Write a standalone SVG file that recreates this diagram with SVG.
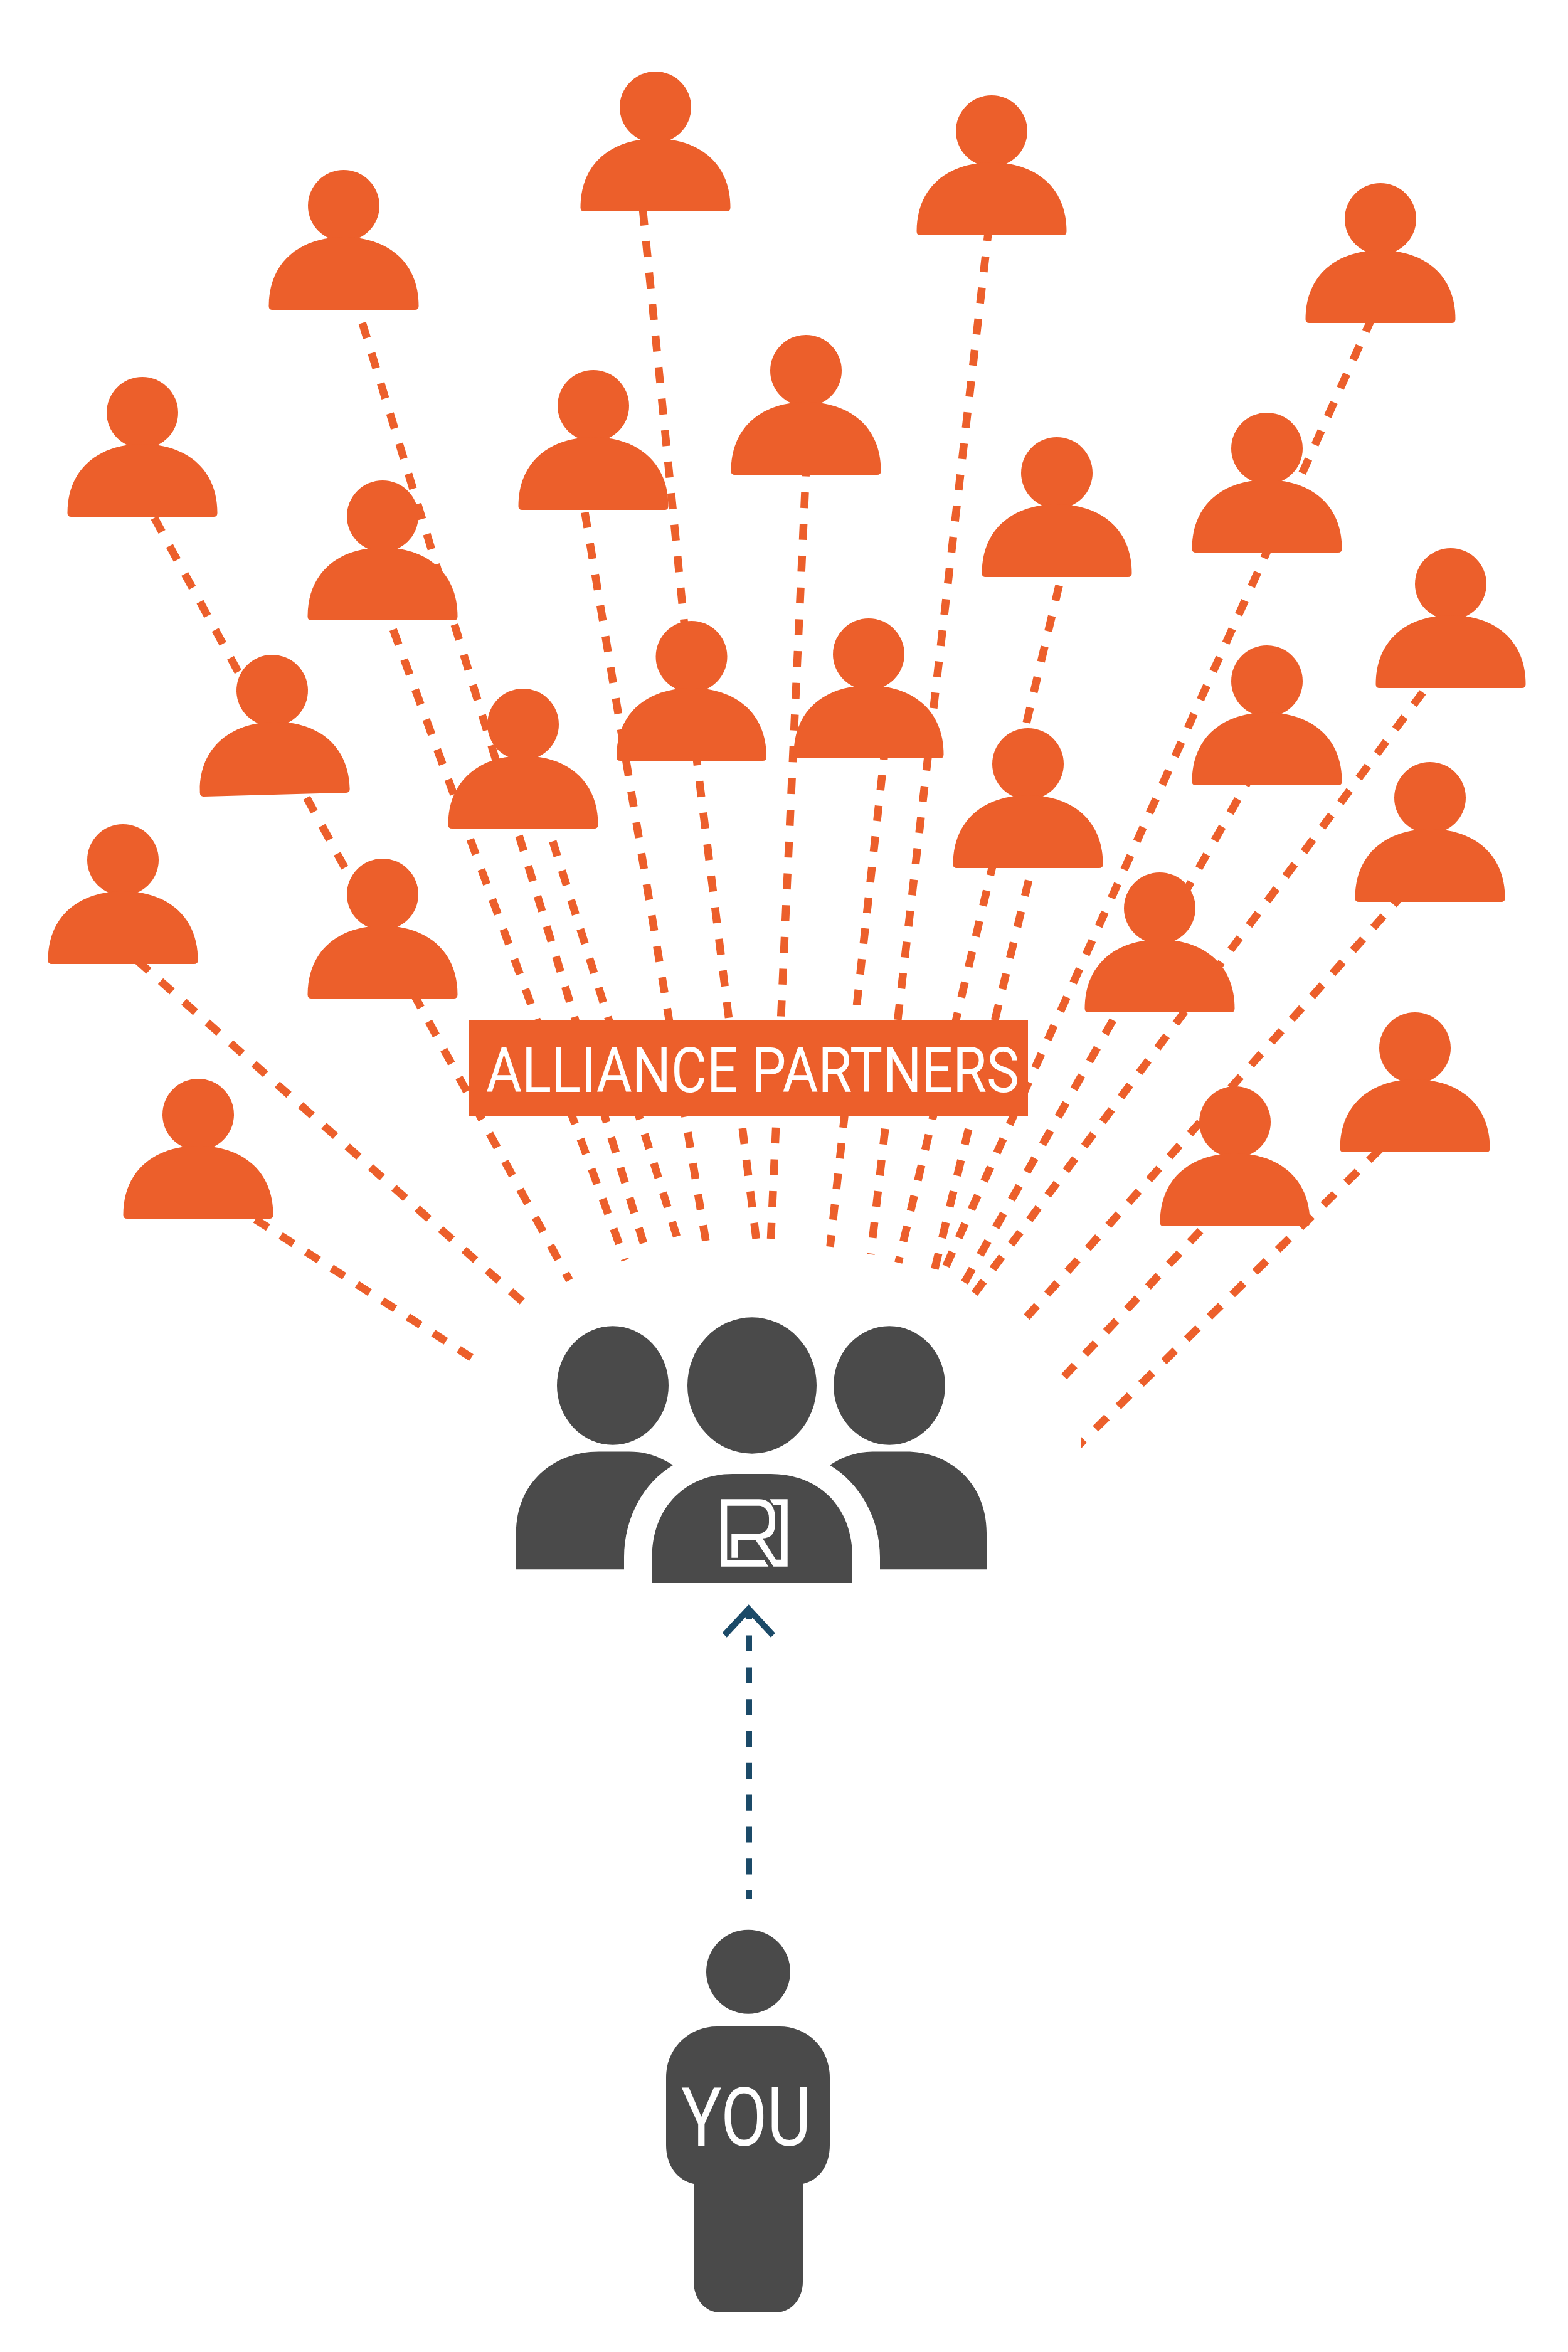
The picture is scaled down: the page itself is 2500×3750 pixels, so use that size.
<svg xmlns="http://www.w3.org/2000/svg" xmlns:xlink="http://www.w3.org/1999/xlink" width="2500" height="3750" viewBox="0 0 2500 3750">
<style>
.o{fill:#EC5F2B}.k{fill:#4A4A4A}.w{fill:#FFFFFF}.b{fill:#1B4A68}
.d{stroke:#EC5F2B;stroke-width:12.5;fill:none}
.n{stroke:#1B4A68;stroke-width:10;fill:none}
.t{font-family:"Roboto","Liberation Sans",sans-serif;fill:#FFFFFF}
</style>
<defs>
<g id="person"><circle cx="0" cy="0" r="57"/><path d="M-119.500 160C-119.500 88 -68 50 0 50C68 50 119.500 88 119.500 160Q119.500 166 113.500 166H-113.500Q-119.500 166 -119.500 160Z"/></g>
<clipPath id="cs"><rect x="1723" y="1700" width="600" height="700"/></clipPath>
</defs>
<rect width="2500" height="3750" fill="#FFFFFF"/>
<g id="connectors">
<path class="d" stroke-dasharray="24 24.100" d="M751.500 2164.400L385 1930"/>
<path class="d" stroke-dasharray="24.800 24.900" d="M832.700 2075L215 1528"/>
<path class="d" stroke-dasharray="25.400 25.400" stroke-dashoffset="12.900" d="M908 2041.300L232 800"/>
<path class="d" stroke-dasharray="25.400 25.500" stroke-dashoffset="23" d="M996.700 2009.300L618 980"/>
<path class="d" stroke-dasharray="25.100 25.200" d="M1026 1982L567 480"/>
<path class="d" stroke-dasharray="24.400 24.500" d="M1079 1971.300L873 1315"/>
<path class="d" stroke-dasharray="25 25.100" d="M1125.300 1978.300L928 790"/>
<path class="d" stroke-dasharray="25.200 25.300" stroke-dashoffset="17.900" d="M1096 1045L1023 315"/>
<path class="d" stroke-dasharray="25.300 25.400" d="M1205.600 1975L1107 1180"/>
<path class="d" stroke-dasharray="25.300 25.400" d="M1229 1975L1286 730"/>
<path class="d" stroke-dasharray="24.600 24.600" stroke-dashoffset="6" d="M1323.500 1987.700L1412 1185"/>
<path class="d" stroke-dasharray="25 25" stroke-dashoffset="23.500" d="M1388.300 2000L1578 350"/>
<path class="d" stroke-dasharray="25 25" stroke-dashoffset="15.200" d="M1432.300 2013.300L1693 915"/>
<path class="d" stroke-dasharray="25.500 25.500" d="M1490.300 2023.300L1647 1375"/>
<path class="d" stroke-dasharray="24.700 24.800" d="M1508.300 2018.700L2195 490"/>
<path class="d" stroke-dasharray="25.300 25.300" d="M1537.800 2044.900L1993 1240"/>
<path class="d" stroke-dasharray="24.400 24.400" d="M1553.700 2062.300L2290 1075"/>
<path class="d" stroke-dasharray="24.400 24.500" d="M1637 2100L2242 1420"/>
<path class="d" stroke-dasharray="24.500 24.500" d="M1696.500 2194.900L1930 1945"/>
<path class="d" stroke-dasharray="25.400 25.500" clip-path="url(#cs)" d="M1710.400 2313.500L2215 1818"/>
<path class="n" stroke-dasharray="25.200 25.600" stroke-dashoffset="13.200" d="M1194 2570V3027.500"/>
<path class="b" d="M1193.700 2558.300L1236 2604L1229 2610.700L1193.700 2573L1158.700 2610.700L1151.700 2603.300Z"/>
</g>
<g id="p1" class="o"><use xlink:href="#person" href="#person" x="548" y="328"/></g>
<g id="p2" class="o"><use xlink:href="#person" href="#person" x="1045" y="171"/></g>
<g id="p3" class="o"><use xlink:href="#person" href="#person" x="1581" y="209"/></g>
<g id="p4" class="o"><use xlink:href="#person" href="#person" x="2201" y="349"/></g>
<g id="p5" class="o"><use xlink:href="#person" href="#person" x="227" y="658"/></g>
<g id="p6" class="o"><use xlink:href="#person" href="#person" x="946" y="647"/></g>
<g id="p7" class="o"><use xlink:href="#person" href="#person" x="1285" y="591"/></g>
<g id="p8" class="o"><use xlink:href="#person" href="#person" x="1685" y="754"/></g>
<g id="p9" class="o"><use xlink:href="#person" href="#person" x="2020" y="715"/></g>
<g id="p10" class="o"><use xlink:href="#person" href="#person" x="2313" y="931"/></g>
<g id="p11" class="o"><use xlink:href="#person" href="#person" x="610" y="823"/></g>
<g id="p12" class="o"><use xlink:href="#person" href="#person" transform="translate(434 1101) rotate(-1.500)"/></g>
<g id="p13" class="o"><use xlink:href="#person" href="#person" x="1102.500" y="1047"/></g>
<g id="p14" class="o"><use xlink:href="#person" href="#person" x="1385" y="1043"/></g>
<g id="p15" class="o"><use xlink:href="#person" href="#person" x="2020" y="1086"/></g>
<g id="p16" class="o"><use xlink:href="#person" href="#person" x="834" y="1155"/></g>
<g id="p17" class="o"><use xlink:href="#person" href="#person" x="1639" y="1218"/></g>
<g id="p18" class="o"><use xlink:href="#person" href="#person" x="2280" y="1272"/></g>
<g id="p19" class="o"><use xlink:href="#person" href="#person" x="196" y="1371"/></g>
<g id="p20" class="o"><use xlink:href="#person" href="#person" x="610" y="1426"/></g>
<g id="p21" class="o"><use xlink:href="#person" href="#person" x="1849" y="1448"/></g>
<g id="p22" class="o"><use xlink:href="#person" href="#person" x="2256" y="1671"/></g>
<g id="p23" class="o"><use xlink:href="#person" href="#person" x="1969" y="1789"/></g>
<g id="p24" class="o"><use xlink:href="#person" href="#person" x="316" y="1777"/></g>
<g id="alliance-partners">
<rect class="o" x="748" y="1627" width="891" height="152"/>
<text class="t" x="775" y="1740.700" font-size="101" textLength="850" lengthAdjust="spacingAndGlyphs">ALLIANCE PARTNERS</text>
</g>
<g id="team" class="k">
<ellipse cx="977" cy="2209" rx="89" ry="94.700"/>
<ellipse cx="1199" cy="2209" rx="103" ry="108.700"/>
<ellipse cx="1418" cy="2209" rx="89" ry="94.700"/>
<path d="M823 2502.300V2444C823 2366 880 2314.400 955 2314.400H1003C1030 2314.400 1053 2323 1073 2336C1026 2364 995 2420 995 2482.700V2502.300Z"/>
<path d="M1573 2502.300V2444C1573 2366 1516 2314.400 1445 2314.400H1391C1366 2314.400 1342 2323 1323 2336C1370 2364 1403 2420 1403 2482.700V2502.300Z"/>
<path d="M1039.500 2524V2482.700C1039.500 2402 1095 2350 1168 2350H1229C1305 2350 1359 2402 1359 2482.700V2524Z"/>
<path class="w" d="M1149 2390.300H1210C1235 2390.300 1236 2415 1236 2420V2427C1236 2445 1230 2452 1216 2452.700L1237 2486.700H1246V2400H1233.300L1227.300 2390.300H1255.700V2497.700H1233.300L1204.300 2455H1176V2483.700H1166.300V2445.300H1207.300C1222 2445.300 1226 2435 1226 2427V2420C1226 2408 1218 2400.700 1210 2400.700H1159.300V2487H1218.300L1225.300 2497.700H1149Z"/>
</g>
<g id="you">
<ellipse class="k" cx="1193" cy="3143.700" rx="67" ry="67"/>
<path class="k" d="M1143 3231H1243C1288 3231 1323 3266 1323 3312V3420C1323 3453 1306 3476 1280 3482V3638C1280 3665 1262 3687 1237 3687H1148C1124 3687 1106 3665 1106 3638V3482C1080 3476 1062 3453 1062 3420V3312C1062 3266 1098 3231 1143 3231Z"/>
<text class="t" x="1086" y="3421" font-size="130" textLength="207" lengthAdjust="spacingAndGlyphs">YOU</text>
</g>
</svg>
